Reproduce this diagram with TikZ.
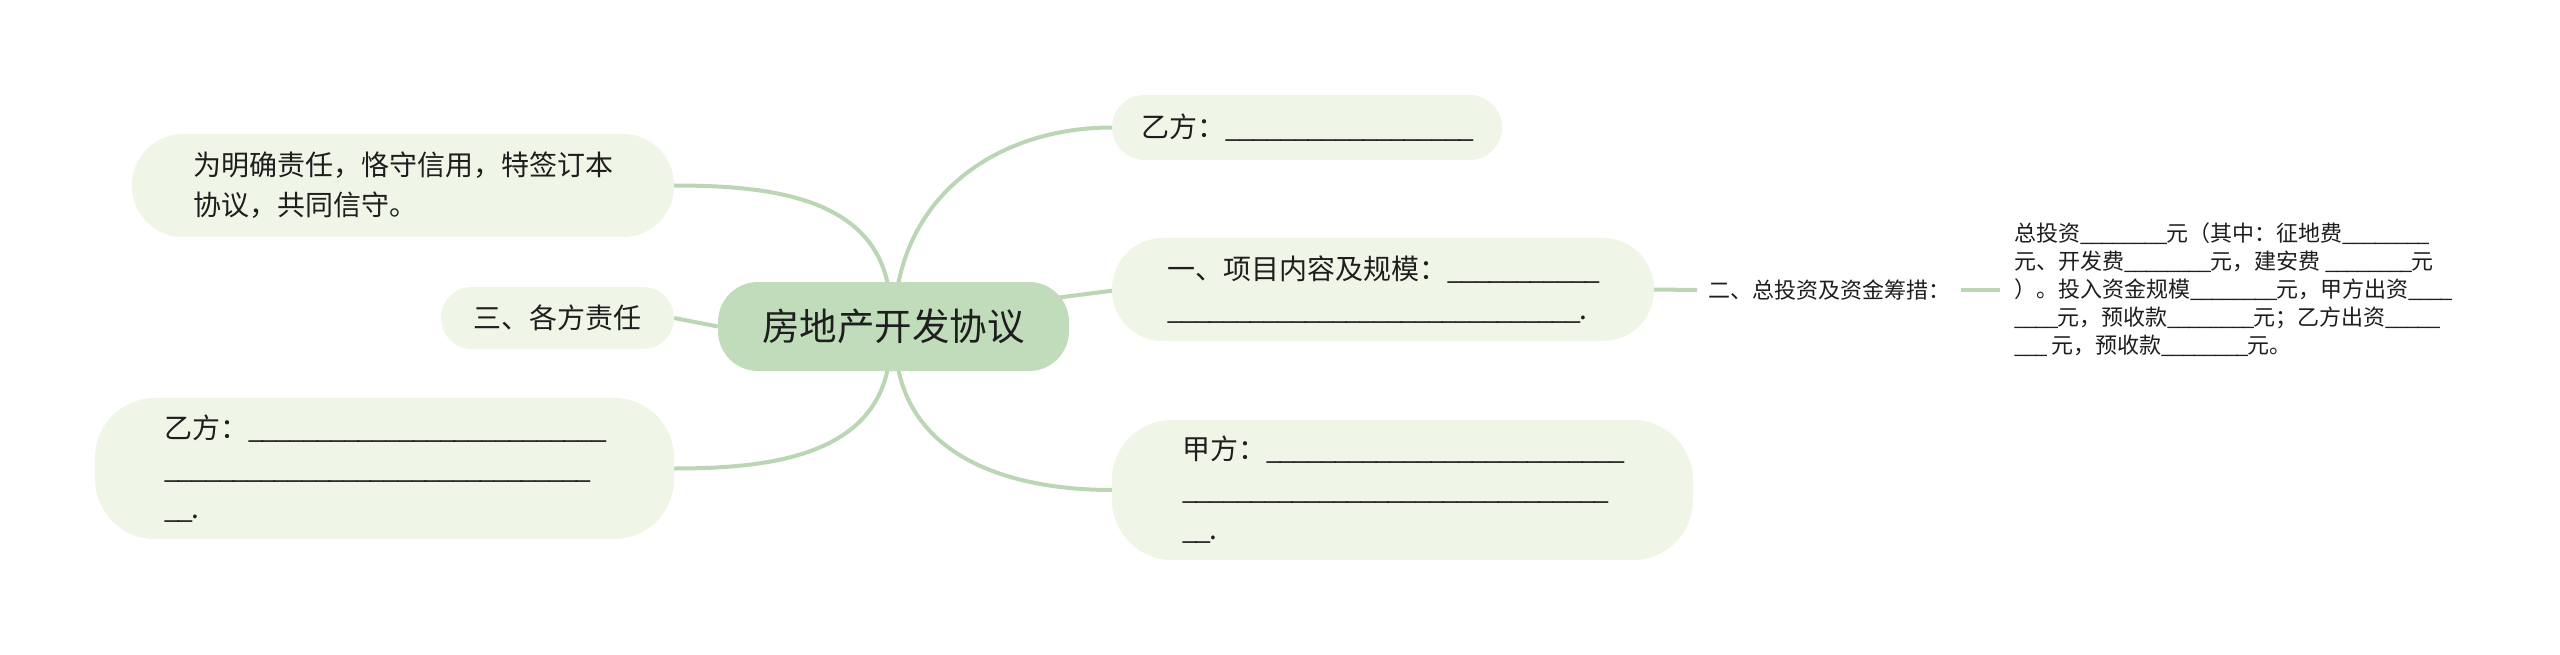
\documentclass[tikz,border=0pt]{standalone}
\usepackage{fontspec}
\setmainfont{Noto Sans CJK SC}
\usetikzlibrary{calc,backgrounds}
\definecolor{boxfill}{RGB}{239,246,232}
\definecolor{rootfill}{RGB}{193,220,187}
\definecolor{linkc}{RGB}{187,214,180}
\definecolor{txt}{RGB}{30,30,30}
\newcount\myblankcount
\newcommand\myblank[1]{\begingroup\myblankcount=0 \loop\ifnum\myblankcount<#1 \makebox[0.49em][l]{\_}\advance\myblankcount by 1 \repeat\endgroup}
\begin{document}
\begin{tikzpicture}[x=1pt,y=-1pt,
 leaf/.style={fill=boxfill, text=txt, align=left, inner sep=0pt, font=\fontsize{28}{40}\selectfont},
 rootnode/.style={fill=rootfill, text=txt, rounded corners=40pt, font=\fontsize{37.5}{45}\selectfont, minimum width=351pt, minimum height=89pt, inner sep=0pt},
 link/.style={draw=linkc, line width=4pt},
 plain/.style={text=txt, align=left, font=\fontsize{22}{28}\selectfont}]
\useasboundingbox (0,0) rectangle (2560,655);
% nodes
\node[rootnode] (c) at (893.5,326.5) {房地产开发协议};
\node[leaf, rounded corners=51pt, minimum width=542pt, minimum height=103pt] (n1) at (403,185.5) {为明确责任，恪守信用，特签订本\\协议，共同信守。};
\node[leaf, rounded corners=31pt, minimum width=233pt, minimum height=62pt] (n2) at (557.5,318) {三、各方责任};
\node[leaf, rounded corners=60pt, minimum width=579pt, minimum height=141pt] (n3) at (384.5,468.5) {乙方：\myblank{26}\\\myblank{31}\\\myblank{2}.};
\node[leaf, rounded corners=32.5pt, minimum width=390pt, minimum height=65pt] (r1) at (1307,127.5) {乙方：\myblank{18}};
\node[leaf, rounded corners=51pt, minimum width=542pt, minimum height=103pt] (r2) at (1383,289.5) {一、项目内容及规模：\myblank{11}\\\myblank{30}.};
\node[leaf, rounded corners=60pt, minimum width=581pt, minimum height=140pt] (r3) at (1402.5,490) {甲方：\myblank{26}\\\myblank{31}\\\myblank{2}.};
\node[plain, anchor=west, inner xsep=11pt, inner ysep=4pt] (q) at (1697,290) {二、总投资及资金筹措：};
\node[plain, anchor=west, inner xsep=14pt, inner ysep=0pt] (d) at (2000,290) {总投资\myblank{8}元（其中：征地费\myblank{8}\\元、开发费\myblank{8}元，建安费 \myblank{8}元\\）。投入资金规模\myblank{8}元，甲方出资\myblank{4}\\\myblank{4}元，预收款\myblank{8}元；乙方出资\myblank{5}\\\myblank{3} 元，预收款\myblank{8}元。};
% connectors
\begin{scope}[on background layer]
\fill[white] (0,0) rectangle (2560,655);
\draw[link] (n1.east) to[out=0,in=100] ($(c.north)+(-5pt,-6pt)$);
\draw[link] (n2.east) -- (c.west);
\draw[link] (n3.east) to[out=0,in=-100] ($(c.south)+(-5pt,6pt)$);
\draw[link] ($(c.north)+(4pt,-6pt)$) to[out=80,in=180] (r1.west);
\draw[link] ($(c.east)+(-10pt,29pt)$) -- ($(r2.west)+(10pt,0pt)$);
\draw[link] ($(c.south)+(4pt,6pt)$) to[out=-80,in=180] (r3.west);
\draw[link] (r2.east) -- (q.west);
\draw[link] (q.east) -- (d.west);
\end{scope}
\end{tikzpicture}
\end{document}
